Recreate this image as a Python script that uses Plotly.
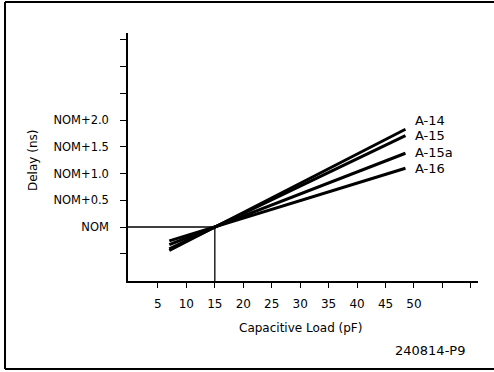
import plotly.graph_objects as go

# ---- data ----
series_names = ["A-14", "A-15", "A-15a", "A-16"]
load_pf = [7, 15, 48.5]                      # capacitive load (pF)
delay_a14 = [-0.44, 0.0, 1.83]               # delay relative to NOM (ns)
delay_a15 = [-0.41, 0.0, 1.71]
delay_a15a = [-0.33, 0.0, 1.38]
delay_a16 = [-0.26, 0.0, 1.10]
nom_load = 15
x_tick_vals = [5, 10, 15, 20, 25, 30, 35, 40, 45, 50, 55, 60]
x_tick_text = ["5", "10", "15", "20", "25", "30", "35", "40", "45", "50", "", ""]
y_tick_vals = [-0.5, 0, 0.5, 1.0, 1.5, 2.0, 2.5, 3.0, 3.5]
y_tick_text = ["", "NOM", "NOM+0.5", "NOM+1.0", "NOM+1.5", "NOM+2.0", "", "", ""]

series_values = [delay_a14, delay_a15, delay_a15a, delay_a16]
label_yshift = [9, 0, 1, 0]

FONT = "DejaVu Sans"
X_RANGE = [-0.26, 61.25]
Y_RANGE = [-1.01, 3.63]

fig = go.Figure()

# reference lines at NOM / 15 pF
fig.add_trace(go.Scatter(x=[X_RANGE[0], nom_load], y=[0, 0], mode="lines",
                         line=dict(color="black", width=1.3), showlegend=False, hoverinfo="skip"))
fig.add_trace(go.Scatter(x=[nom_load, nom_load], y=[Y_RANGE[0], 0], mode="lines",
                         line=dict(color="black", width=1.3), showlegend=False, hoverinfo="skip"))

for name, vals, ys in zip(series_names, series_values, label_yshift):
    fig.add_trace(go.Scatter(x=load_pf, y=vals, mode="lines", name=name,
                             line=dict(color="black", width=3), showlegend=False))
    fig.add_annotation(x=load_pf[-1], y=vals[-1], text=name, showarrow=False,
                       xanchor="left", yanchor="middle", xshift=8, yshift=ys,
                       font=dict(family=FONT, size=13, color="black"))

fig.update_layout(
    width=494, height=372,
    margin=dict(l=128, r=16, t=33, b=91),
    paper_bgcolor="white", plot_bgcolor="white",
    font=dict(family=FONT, size=12, color="black"),
    xaxis=dict(range=X_RANGE, showgrid=False, zeroline=False, showline=True,
               linecolor="black", linewidth=1.5, ticks="outside", ticklen=5,
               tickwidth=1.3, tickcolor="black", tickvals=x_tick_vals,
               ticktext=x_tick_text, tickfont=dict(family=FONT, size=12),
               ticklabelstandoff=6),
    yaxis=dict(range=Y_RANGE, showgrid=False, zeroline=False, showline=True,
               linecolor="black", linewidth=1.5, ticks="outside", ticklen=6,
               tickwidth=1.3, tickcolor="black", tickvals=y_tick_vals,
               ticktext=y_tick_text, tickfont=dict(family=FONT, size=11.5),
               ticklabelstandoff=9),
)

# axis titles and figure id
fig.add_annotation(xref="paper", yref="paper", x=(300 - 128) / 350, y=(281 - 328) / 248,
                   text="Capacitive Load (pF)", showarrow=False, xanchor="center",
                   yanchor="middle", font=dict(family=FONT, size=12))
fig.add_annotation(xref="paper", yref="paper", x=(33 - 128) / 350, y=(281 - 161) / 248,
                   text="Delay (ns)", showarrow=False, textangle=-90, xanchor="center",
                   yanchor="middle", font=dict(family=FONT, size=12))
fig.add_annotation(xref="paper", yref="paper", x=(467 - 128) / 350, y=(281 - 350) / 248,
                   text="240814-P9", showarrow=False, xanchor="right",
                   yanchor="middle", font=dict(family=FONT, size=13))

# frame around the figure (open on the right)
def px_x(p):
    return (p - 128) / 350

def px_y(p):
    return (281 - p) / 248

frame = dict(color="black", width=2)
fig.add_shape(type="line", xref="paper", yref="paper", x0=px_x(5), x1=px_x(5),
              y0=px_y(2), y1=px_y(369), line=frame)
fig.add_shape(type="line", xref="paper", yref="paper", x0=px_x(5), x1=px_x(494),
              y0=px_y(2), y1=px_y(2), line=frame)
fig.add_shape(type="line", xref="paper", yref="paper", x0=px_x(5), x1=px_x(494),
              y0=px_y(369), y1=px_y(369), line=frame)

fig.write_html("out.html", config={"displayModeBar": False},
               post_script="document.body.style.margin='0';document.body.style.overflow='hidden';")
